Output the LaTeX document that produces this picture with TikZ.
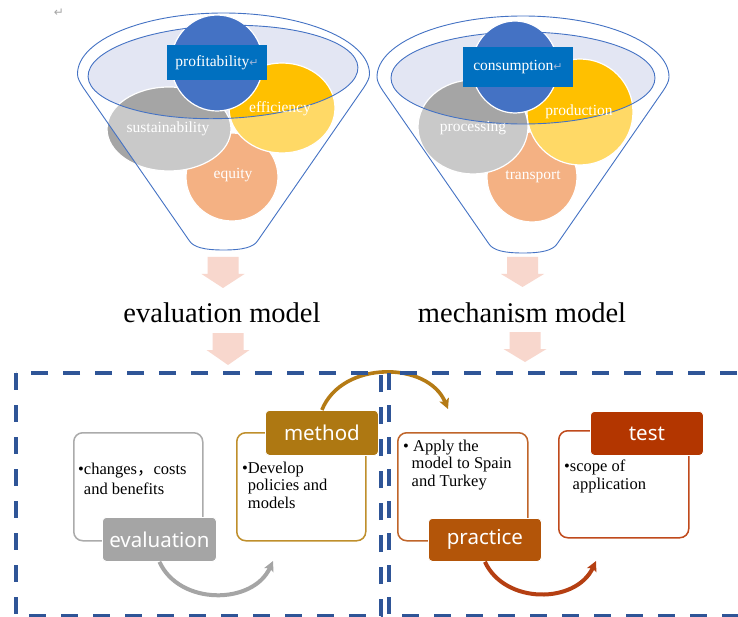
\documentclass[tikz,border=0pt]{standalone}
\usepackage{fontspec}
\setmainfont{Liberation Serif}
\newfontfamily\labfont{Noto Sans}
\newfontfamily\symfont{DejaVu Sans}
\newfontfamily\cjkfont{Noto Sans CJK SC}
\usetikzlibrary{arrows.meta}
\definecolor{cblue}{HTML}{4472C4}
\definecolor{cgray}{HTML}{A5A5A5}
\definecolor{cgold}{HTML}{FFC000}
\definecolor{corange}{HTML}{ED7D31}
\definecolor{lav}{HTML}{E3E6F3}
\definecolor{boxblue}{HTML}{0070C0}
\definecolor{retmark}{HTML}{9DB4D8}
\definecolor{apink}{HTML}{F8D7CD}
\definecolor{dashblue}{HTML}{2F5597}
\definecolor{evfill}{HTML}{A5A5A5}
\definecolor{evline}{HTML}{ABABAB}
\definecolor{mefill}{HTML}{AE7812}
\definecolor{meline}{HTML}{BF8F2C}
\definecolor{prfill}{HTML}{B35509}
\definecolor{prline}{HTML}{C0652A}
\definecolor{tefill}{HTML}{B33600}
\definecolor{teline}{HTML}{C04A1C}
\definecolor{brownarc}{HTML}{B57B15}
\definecolor{redarc}{HTML}{B53F12}
\newcommand\blockdown[3]{%
  \fill[apink] (#1-15.5,#2) -- (#1+15.5,#2) -- (#1+15.5,#2+17) -- (#1+21.5,#2+17)
    -- (#1,#3) -- (#1-21.5,#2+17) -- (#1-15.5,#2+17) -- cycle;}
\newcommand\funnelpath{%
  (-34,167) -- (-140,14) .. controls (-144,8) and (-146,4) .. (-146,0)
  arc[start angle=180,end angle=360,x radius=146,y radius=61]
  .. controls (146,4) and (144,8) .. (140,14) -- (34,167)
  .. controls (30,173) and (20,176) .. (0,176)
  .. controls (-20,176) and (-30,173) .. (-34,167) -- cycle}
\newcommand\bodyclip{%
  (-146,0) -- (-140,14) -- (-34,167) -- (0,177) -- (34,167) -- (140,14) -- (146,0) -- cycle}
\tikzset{
  blob/.style={draw=white, line width=1.2pt},
  fline/.style={draw=cblue, line width=0.9pt},
  circlab/.style={text=white, inner sep=0pt, font=\fontsize{15.5}{17}\selectfont},
  keybox/.style={fill=boxblue, text=white, inner sep=0pt, font=\fontsize{15.5}{17}\selectfont},
  title/.style={inner sep=0pt, anchor=base, font=\fontsize{28.5}{30}\selectfont},
  dashbox/.style={draw=dashblue, line width=4.5pt, dash pattern=on 17pt off 15pt},
  tbox/.style={draw=#1, fill=white, line width=1.5pt, rounded corners=9pt, anchor=north west, inner sep=0pt},
  lbox/.style={fill=#1, draw=white, line width=0.8pt, rounded corners=4pt, anchor=north west, inner sep=0pt, text=white, font=\labfont\fontsize{20.5}{22}\selectfont},
  btext/.style={anchor=north west, inner sep=0pt, align=left, font=\fontsize{16.5}{17.7}\selectfont},
  arcline/.style={line width=#1, -{Stealth[length=10pt,width=10pt,inset=2pt]}}
}
\begin{document}
\begin{tikzpicture}[x=1pt,y=-1pt]
\useasboundingbox (0,0) rectangle (738,617);
\clip (0,0) rectangle (738,617);
\fill[white] (0,0) rectangle (738,617);

% return mark top-left
\node[text=gray!70, inner sep=0pt, font=\symfont\fontsize{12}{13}\selectfont] (ret) at (59,13) {↵};

% ---------------- left funnel ----------------
\fill[lav, rotate around={2:(223,72)}] (223,72) ellipse [x radius=135, y radius=46.5];
\fill[corange, blob] (232,177) ellipse [x radius=46, y radius=44];
\fill[cgray, blob] (169,129) ellipse [x radius=62, y radius=42];
\fill[cgold, blob] (282,108) ellipse [x radius=53, y radius=45];
\fill[cblue, blob] (217,63) ellipse [x radius=46, y radius=48];
\begin{scope}[shift={(223.5,74)}]
  \begin{scope}
    \clip \bodyclip;
    \fill[white, fill opacity=0.4, even odd rule] (-200,-100) rectangle (200,200)
      {[rotate around={2:(-0.5,-2)}] (-0.5,-2) ellipse [x radius=135, y radius=46.5]};
  \end{scope}
  \draw[fline] \funnelpath;
  \draw[fline, rotate around={2:(-0.5,-2)}] (-0.5,-2) ellipse [x radius=135, y radius=46.5];
\end{scope}
\node[circlab] (sus) at (168,129) {sustainability};
\node[circlab] (eff) at (280,109) {efficiency};
\node[circlab] (equ) at (233,175) {equity};
\node[keybox, minimum width=100pt, minimum height=35pt] (prof) at (217,62.5)
  {profitability{\symfont\fontsize{11}{12}\selectfont\color{retmark}↵}};

% ---------------- right funnel ----------------
\fill[lav] (523,78) ellipse [x radius=132, y radius=46];
\fill[corange, blob] (532,177) ellipse [x radius=45, y radius=45];
\fill[cgray, blob] (473,127) ellipse [x radius=55, y radius=47];
\fill[cgold, blob] (580,112) ellipse [x radius=53, y radius=53];
\fill[cblue, blob] (515,67) ellipse [x radius=43, y radius=46];
\begin{scope}[shift={(523,77)}]
  \begin{scope}
    \clip \bodyclip;
    \fill[white, fill opacity=0.4, even odd rule] (-200,-100) rectangle (200,200)
      (0,1) ellipse [x radius=132, y radius=46];
  \end{scope}
  \draw[fline] \funnelpath;
  \draw[fline] (0,1) ellipse [x radius=132, y radius=46];
\end{scope}
\node[circlab] (proc) at (473,128) {processing};
\node[circlab] (prod) at (579,112) {production};
\node[circlab] (trans) at (533,177) {transport};
\node[keybox, minimum width=110pt, minimum height=40pt] (cons) at (518,67)
  {consumption{\symfont\fontsize{11}{12}\selectfont\color{retmark}↵}};

% ---------------- block arrows & titles ----------------
\blockdown{223}{257}{288}
\blockdown{522.5}{257}{287}
\node[title] (evm) at (222,323) {evaluation model};
\node[title] (mem) at (522,322) {mechanism model};
\blockdown{228}{333}{365}
\blockdown{525}{332}{362}

% ---------------- process boxes ----------------
\node[tbox=evline, minimum width=129pt, minimum height=108pt] (evbox) at (73,432) {};
\node[tbox=meline, minimum width=129pt, minimum height=108pt] (mebox) at (236,432) {};
\node[tbox=prline, minimum width=130pt, minimum height=108pt] (prbox) at (397,432) {};
\node[tbox=teline, minimum width=130pt, minimum height=107pt] (tebox) at (558,430) {};

\node[btext, font=\fontsize{16.5}{20}\selectfont] (evtxt) at (78,462.5)
  {•changes{\cjkfont\fontsize{16.5}{20}\selectfont ，}costs\\\phantom{•}and benefits};
\node[btext] (metxt) at (242,461.5) {•Develop\\\phantom{•}policies and\\\phantom{•}models};
\node[btext] (prtxt) at (403,439.5) {• Apply the\\\phantom{•}\,model to Spain\\\phantom{•}\,and Turkey};
\node[btext] (tetxt) at (564,459.5) {•scope of\\\phantom{•}\,application};

\node[lbox=evfill, minimum width=114pt, minimum height=44pt] (evlab) at (102,517) {evaluation};
\node[lbox=mefill, minimum width=113pt, minimum height=45pt] (melab) at (265,410) {method};
\node[lbox=prfill, minimum width=113pt, minimum height=43pt] (prlab) at (428,518) {practice};
\node[lbox=tefill, minimum width=113pt, minimum height=44pt] (telab) at (590,411) {test};

% ---------------- curved connectors ----------------
\coordinate (gEnd) at (273,561);
\coordinate (bEnd) at (448,409);
\coordinate (rEnd) at (596,561);
\draw[arcline=4pt, draw=cgray, fill=none] (evlab.south) .. controls +(20,44) and +(-20,44) .. (gEnd);
\draw[arcline=3.6pt, draw=brownarc] (melab.north) .. controls +(20,-50) and +(-20,-48) .. (bEnd);
\draw[arcline=4pt, draw=redarc] (prlab.south) .. controls +(20,43) and +(-20,43) .. (rEnd);

% ---------------- dashed frames ----------------
\draw[dashbox] (16,373) rectangle (381,616);
\draw[dashbox] (389,373) rectangle (752,616);
\end{tikzpicture}
\end{document}
